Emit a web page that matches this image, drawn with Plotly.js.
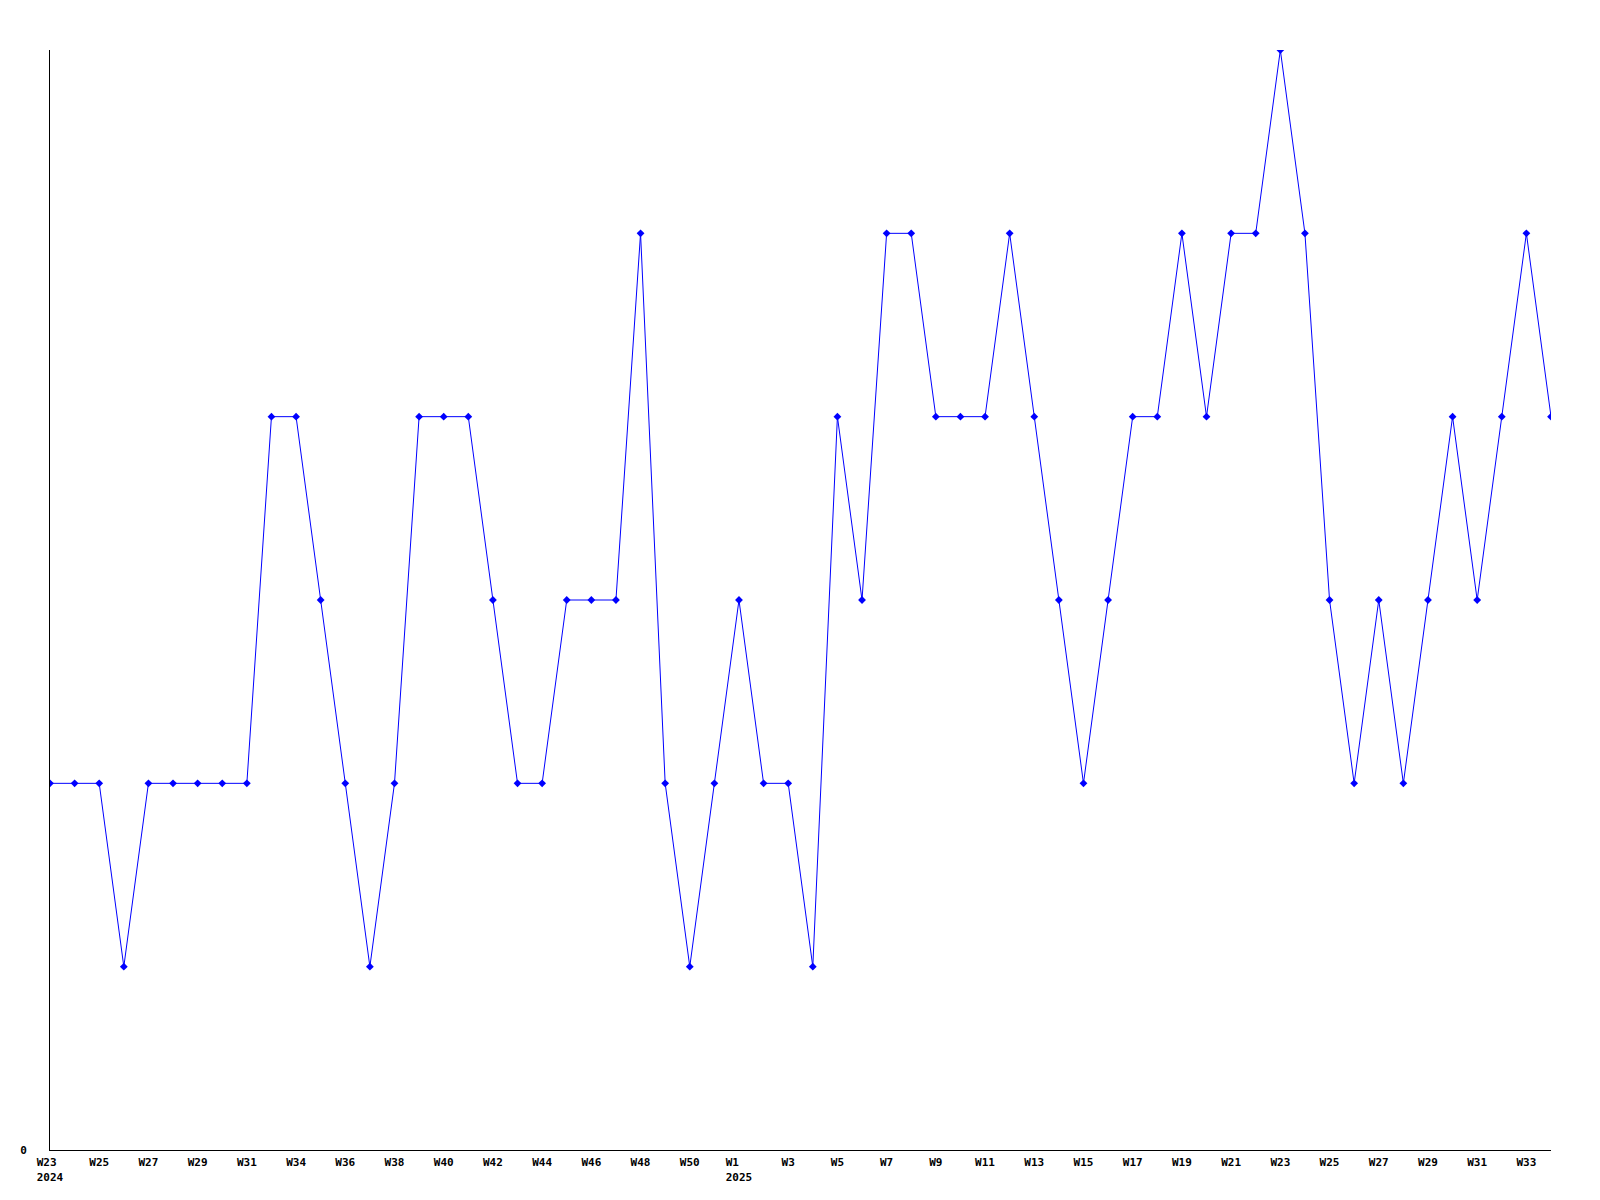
<!DOCTYPE html>
<html>
<head>
<meta charset="utf-8">
<script src="https://cdn.plot.ly/plotly-3.0.1.min.js"></script>
<style>html,body{margin:0;padding:0;background:#fff;}#chart{width:1600px;height:1200px;}</style>
</head>
<body>
<div id="chart"></div>
<script>
// Weekly points, 2024 W23 .. 2025 W32
const weeks2024 = ["W23","W24","W25","W26","W27","W28","W29","W30","W31","W32","W33","W34","W35","W36","W37","W38","W39","W40","W41","W42","W43","W44","W45","W46","W47","W48","W49","W50","W51","W52"];
const weeks2025 = ["W1","W2","W3","W4","W5","W6","W7","W8","W9","W10","W11","W12","W13","W14","W15","W16","W17","W18","W19","W20","W21","W22","W23","W24","W25","W26","W27","W28","W29","W30","W31","W32"];
const categories = weeks2024.map(w => "2024-" + w).concat(weeks2025.map(w => "2025-" + w));
const values = [2,2,2,1,2,2,2,2,2,4,4,3,2,1,2,4,4,4,3,2,2,3,3,3,5,2,1,2,3,2,2,1,4,3,5,5,4,4,4,5,4,3,2,3,4,4,5,4,5,5,6,5,3,2,3,2,3,4,3,4,5,4];
// Tick labels as printed on the reference axis (one every second point)
const tickLabels = ["W23\u00a0<br>2024","W25","W27","W29","W31","W34","W36","W38","W40","W42","W44","W46","W48","W50","W1\u00a0\u00a0<br>2025","W3","W5","W7","W9","W11","W13","W15","W17","W19","W21","W23","W25","W27","W29","W31","W33"];

const tickVals = tickLabels.map((_, i) => categories[i * 2]);
const font = {family: "DejaVu Sans Mono, monospace", size: 11, color: "#000", weight: "bold"};

Plotly.newPlot("chart", [{
  x: categories,
  y: values,
  type: "scatter",
  mode: "lines+markers",
  line: {color: "#0000ff", width: 1},
  marker: {color: "#0000ff", size: 6, symbol: "diamond", line: {width: 0}},
  cliponaxis: true,
  hoverinfo: "none"
}], {
  width: 1600, height: 1200,
  margin: {l: 50, r: 49, t: 50, b: 50},
  paper_bgcolor: "#fff", plot_bgcolor: "#fff",
  showlegend: false,
  font: font,
  xaxis: {
    type: "category",
    range: [0, categories.length - 1],
    tickvals: tickVals, ticktext: tickLabels,
    tickangle: 0,
    showgrid: false, zeroline: false,
    showline: true, linecolor: "#000", linewidth: 1,
    ticks: "", ticklabelstandoff: 2,
    tickfont: font
  },
  yaxis: {
    range: [0, 6],
    tickvals: [0], ticktext: ["0"],
    showgrid: false, zeroline: false,
    showline: true, linecolor: "#000", linewidth: 1,
    ticks: "", ticklabelstandoff: 20,
    tickfont: font
  }
}, {staticPlot: true});
</script>
</body>
</html>
